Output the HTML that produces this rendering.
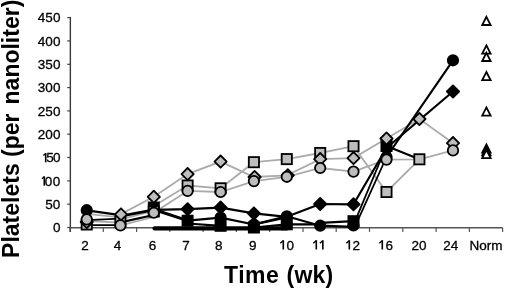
<!DOCTYPE html>
<html><head><meta charset="utf-8"><style>
html,body{margin:0;padding:0;background:#fff;width:520px;height:289px;overflow:hidden}
svg{display:block;will-change:transform}
.tl{font-family:"Liberation Sans",sans-serif;font-size:13.5px;fill:#000;stroke:#000;stroke-width:0.3px}
.tt{font-family:"Liberation Sans",sans-serif;font-size:23px;font-weight:bold;fill:#000}
</style></head><body>
<svg width="520" height="289" viewBox="0 0 520 289">
<line x1="70.35" y1="16.9" x2="70.35" y2="232" stroke="#383838" stroke-width="1.4"/>
<line x1="69.4" y1="227.8" x2="502.6" y2="227.8" stroke="#555" stroke-width="1.5"/>
<line x1="67.2" y1="227.5" x2="70" y2="227.5" stroke="#444" stroke-width="1.2"/>
<text x="60.4" y="232.3" text-anchor="end" class="tl">0</text>
<line x1="67.2" y1="204.2" x2="70" y2="204.2" stroke="#444" stroke-width="1.2"/>
<text x="60.4" y="209.0" text-anchor="end" class="tl">50</text>
<line x1="67.2" y1="180.9" x2="70" y2="180.9" stroke="#444" stroke-width="1.2"/>
<path d="M44.30,185.66V176.36" stroke="#000" stroke-width="1.6" fill="none"/><path d="M44.20,176.81L42.00,178.76" stroke="#000" stroke-width="1.35" fill="none"/>
<text x="48.50" y="185.66" text-anchor="middle" class="tl">0</text>
<text x="56.50" y="185.66" text-anchor="middle" class="tl">0</text>
<line x1="67.2" y1="157.5" x2="70" y2="157.5" stroke="#444" stroke-width="1.2"/>
<path d="M45.70,162.34V153.04" stroke="#000" stroke-width="1.6" fill="none"/><path d="M45.60,153.49L43.40,155.44" stroke="#000" stroke-width="1.35" fill="none"/>
<text x="50.00" y="162.34" text-anchor="middle" class="tl">5</text>
<text x="56.80" y="162.34" text-anchor="middle" class="tl">0</text>
<line x1="67.2" y1="134.2" x2="70" y2="134.2" stroke="#444" stroke-width="1.2"/>
<text x="60.4" y="139.0" text-anchor="end" class="tl">200</text>
<line x1="67.2" y1="110.9" x2="70" y2="110.9" stroke="#444" stroke-width="1.2"/>
<text x="60.4" y="115.7" text-anchor="end" class="tl">250</text>
<line x1="67.2" y1="87.6" x2="70" y2="87.6" stroke="#444" stroke-width="1.2"/>
<text x="60.4" y="92.4" text-anchor="end" class="tl">300</text>
<line x1="67.2" y1="64.3" x2="70" y2="64.3" stroke="#444" stroke-width="1.2"/>
<text x="60.4" y="69.1" text-anchor="end" class="tl">350</text>
<line x1="67.2" y1="40.9" x2="70" y2="40.9" stroke="#444" stroke-width="1.2"/>
<text x="60.4" y="45.7" text-anchor="end" class="tl">400</text>
<line x1="67.2" y1="17.6" x2="70" y2="17.6" stroke="#444" stroke-width="1.2"/>
<text x="60.4" y="22.4" text-anchor="end" class="tl">450</text>
<line x1="70.0" y1="227.8" x2="70.0" y2="231.9" stroke="#555" stroke-width="1.2"/>
<line x1="103.3" y1="227.8" x2="103.3" y2="231.9" stroke="#555" stroke-width="1.2"/>
<line x1="136.6" y1="227.8" x2="136.6" y2="231.9" stroke="#555" stroke-width="1.2"/>
<line x1="169.8" y1="227.8" x2="169.8" y2="231.9" stroke="#555" stroke-width="1.2"/>
<line x1="203.1" y1="227.8" x2="203.1" y2="231.9" stroke="#555" stroke-width="1.2"/>
<line x1="236.4" y1="227.8" x2="236.4" y2="231.9" stroke="#555" stroke-width="1.2"/>
<line x1="269.7" y1="227.8" x2="269.7" y2="231.9" stroke="#555" stroke-width="1.2"/>
<line x1="303.0" y1="227.8" x2="303.0" y2="231.9" stroke="#555" stroke-width="1.2"/>
<line x1="336.2" y1="227.8" x2="336.2" y2="231.9" stroke="#555" stroke-width="1.2"/>
<line x1="369.5" y1="227.8" x2="369.5" y2="231.9" stroke="#555" stroke-width="1.2"/>
<line x1="402.8" y1="227.8" x2="402.8" y2="231.9" stroke="#555" stroke-width="1.2"/>
<line x1="436.1" y1="227.8" x2="436.1" y2="231.9" stroke="#555" stroke-width="1.2"/>
<line x1="469.4" y1="227.8" x2="469.4" y2="231.9" stroke="#555" stroke-width="1.2"/>
<line x1="502.6" y1="227.8" x2="502.6" y2="231.9" stroke="#555" stroke-width="1.2"/>
<text x="85.1" y="249.5" text-anchor="middle" class="tl">2</text>
<text x="117.4" y="249.5" text-anchor="middle" class="tl">4</text>
<text x="152.4" y="249.5" text-anchor="middle" class="tl">6</text>
<text x="185.9" y="249.5" text-anchor="middle" class="tl">7</text>
<text x="218.8" y="249.5" text-anchor="middle" class="tl">8</text>
<text x="252.8" y="249.5" text-anchor="middle" class="tl">9</text>
<path d="M283.30,249.50V240.20" stroke="#000" stroke-width="1.6" fill="none"/><path d="M283.20,240.65L280.30,243.30" stroke="#000" stroke-width="1.35" fill="none"/>
<text x="290.15" y="249.50" text-anchor="middle" class="tl">0</text>
<path d="M316.30,249.50V240.20" stroke="#000" stroke-width="1.6" fill="none"/><path d="M316.20,240.65L313.30,243.30" stroke="#000" stroke-width="1.35" fill="none"/>
<path d="M322.85,249.50V240.20" stroke="#000" stroke-width="1.6" fill="none"/><path d="M322.75,240.65L319.85,243.30" stroke="#000" stroke-width="1.35" fill="none"/>
<path d="M349.30,249.50V240.20" stroke="#000" stroke-width="1.6" fill="none"/><path d="M349.20,240.65L346.30,243.30" stroke="#000" stroke-width="1.35" fill="none"/>
<text x="356.15" y="249.50" text-anchor="middle" class="tl">2</text>
<path d="M382.30,249.50V240.20" stroke="#000" stroke-width="1.6" fill="none"/><path d="M382.20,240.65L379.30,243.30" stroke="#000" stroke-width="1.35" fill="none"/>
<text x="389.15" y="249.50" text-anchor="middle" class="tl">6</text>
<text x="418.9" y="249.5" text-anchor="middle" class="tl">20</text>
<text x="450.8" y="249.5" text-anchor="middle" class="tl">24</text>
<text x="486.1" y="249.5" text-anchor="middle" class="tl">Norm</text>
<polyline points="153.80,196.80 187.60,174.10 220.60,161.60 253.90,177.00 286.80,175.30 320.20,159.10 353.50,158.10 386.50,138.50 419.40,119.00 453.00,143.10" fill="none" stroke="#ababab" stroke-width="1.8"/>
<polyline points="187.60,185.50 220.60,188.30 253.90,162.20 286.80,159.10 320.20,153.00 353.50,146.20 386.50,192.00 419.40,159.30" fill="none" stroke="#ababab" stroke-width="1.8"/>
<polyline points="187.60,190.90 220.60,192.00 253.90,181.10 286.80,176.80 320.20,168.00 353.50,171.60 386.50,159.60 419.40,159.30 453.00,150.40" fill="none" stroke="#ababab" stroke-width="1.8"/>
<line x1="86.75" y1="213.8" x2="120.40" y2="217.3" stroke="#ababab" stroke-width="1.8"/>
<line x1="86.75" y1="221.2" x2="120.40" y2="222.5" stroke="#ababab" stroke-width="1.8"/>
<line x1="120.40" y1="214.4" x2="153.80" y2="196.8" stroke="#ababab" stroke-width="1.8"/>
<line x1="120.40" y1="219.3" x2="153.80" y2="210.9" stroke="#ababab" stroke-width="1.8"/>
<line x1="120.40" y1="225.4" x2="153.80" y2="217.0" stroke="#ababab" stroke-width="1.8"/>
<line x1="153.80" y1="206" x2="187.60" y2="185.5" stroke="#ababab" stroke-width="1.8"/>
<line x1="153.80" y1="212.7" x2="187.60" y2="190.9" stroke="#ababab" stroke-width="1.8"/>
<polyline points="153.80,209.80 187.60,209.20 220.60,207.60 253.90,213.40 286.80,216.80 320.20,204.00 353.50,204.30 386.50,148.00 453.00,91.50" fill="none" stroke="#000" stroke-width="2.2" stroke-linejoin="round"/>
<polyline points="253.90,227.50 286.80,224.30 320.20,224.30" fill="none" stroke="#000" stroke-width="2.2" stroke-linejoin="round"/>
<polyline points="320.20,222.80 353.50,221.20" fill="none" stroke="#000" stroke-width="2.2" stroke-linejoin="round"/>
<polyline points="386.50,146.00 419.40,159.30" fill="none" stroke="#000" stroke-width="2.2" stroke-linejoin="round"/>
<polyline points="386.50,157.00 453.00,60.30" fill="none" stroke="#000" stroke-width="2.2" stroke-linejoin="round"/>
<line x1="353.50" y1="224.8" x2="386.50" y2="146" stroke="#000" stroke-width="1.8"/>
<line x1="353.50" y1="229.8" x2="386.50" y2="157" stroke="#000" stroke-width="1.8"/>
<polyline points="253.90,224.50 286.80,216.30 320.20,225.70 353.50,226.90" fill="none" stroke="#000" stroke-width="2.2" stroke-linejoin="round"/>
<line x1="86.75" y1="210.4" x2="120.40" y2="215.1" stroke="#000" stroke-width="2.2"/>
<line x1="86.75" y1="220.2" x2="120.40" y2="218.7" stroke="#000" stroke-width="1.7"/>
<line x1="86.75" y1="225.1" x2="120.40" y2="225.2" stroke="#000" stroke-width="1.7"/>
<line x1="120.40" y1="216.1" x2="153.80" y2="209.9" stroke="#000" stroke-width="3.0"/>
<line x1="120.40" y1="222.4" x2="153.80" y2="215.0" stroke="#000" stroke-width="2.2"/>
<line x1="153.80" y1="209.5" x2="187.60" y2="220.7" stroke="#000" stroke-width="3.0"/>
<line x1="187.60" y1="220.7" x2="220.60" y2="217.6" stroke="#000" stroke-width="2.2"/>
<line x1="187.60" y1="223.5" x2="220.60" y2="225.8" stroke="#000" stroke-width="2.2"/>
<line x1="220.60" y1="217.6" x2="253.90" y2="224.5" stroke="#000" stroke-width="2.2"/>
<line x1="253.90" y1="224.5" x2="286.80" y2="217.5" stroke="#000" stroke-width="2.2"/>
<line x1="154.6" y1="228.4" x2="286.80" y2="228.4" stroke="#000" stroke-width="4.3" stroke-linecap="round"/>
<rect x="148.70" y="202.40" width="10.20" height="10.20" fill="#000" stroke="#000" stroke-width="1.8"/>
<rect x="182.50" y="215.60" width="10.20" height="10.20" fill="#000" stroke="#000" stroke-width="1.8"/>
<rect x="215.50" y="220.70" width="10.20" height="10.20" fill="#000" stroke="#000" stroke-width="1.8"/>
<rect x="248.80" y="222.40" width="10.20" height="10.20" fill="#000" stroke="#000" stroke-width="1.8"/>
<rect x="281.70" y="219.20" width="10.20" height="10.20" fill="#000" stroke="#000" stroke-width="1.8"/>
<rect x="348.40" y="216.10" width="10.20" height="10.20" fill="#000" stroke="#000" stroke-width="1.8"/>
<rect x="381.40" y="140.90" width="10.20" height="10.20" fill="#000" stroke="#000" stroke-width="1.8"/>
<polygon points="187.60,203.10 193.70,209.20 187.60,215.30 181.50,209.20" fill="#000" stroke="#000" stroke-width="1.8" stroke-linejoin="round"/>
<polygon points="220.60,201.50 226.70,207.60 220.60,213.70 214.50,207.60" fill="#000" stroke="#000" stroke-width="1.8" stroke-linejoin="round"/>
<polygon points="253.90,207.30 260.00,213.40 253.90,219.50 247.80,213.40" fill="#000" stroke="#000" stroke-width="1.8" stroke-linejoin="round"/>
<polygon points="320.20,197.90 326.30,204.00 320.20,210.10 314.10,204.00" fill="#000" stroke="#000" stroke-width="1.8" stroke-linejoin="round"/>
<polygon points="353.50,198.20 359.60,204.30 353.50,210.40 347.40,204.30" fill="#000" stroke="#000" stroke-width="1.8" stroke-linejoin="round"/>
<polygon points="453.00,85.40 459.10,91.50 453.00,97.60 446.90,91.50" fill="#000" stroke="#000" stroke-width="1.8" stroke-linejoin="round"/>
<circle cx="86.75" cy="210.20" r="5.2" fill="#000" stroke="#000" stroke-width="1.8"/>
<circle cx="220.60" cy="217.60" r="5.2" fill="#000" stroke="#000" stroke-width="1.8"/>
<circle cx="253.90" cy="224.50" r="5.2" fill="#000" stroke="#000" stroke-width="1.8"/>
<circle cx="286.80" cy="216.30" r="5.2" fill="#000" stroke="#000" stroke-width="1.8"/>
<circle cx="320.20" cy="225.70" r="5.2" fill="#000" stroke="#000" stroke-width="1.8"/>
<circle cx="353.50" cy="225.50" r="5.2" fill="#000" stroke="#000" stroke-width="1.8"/>
<circle cx="386.50" cy="157.00" r="5.2" fill="#000" stroke="#000" stroke-width="1.8"/>
<circle cx="453.00" cy="60.30" r="5.2" fill="#000" stroke="#000" stroke-width="1.8"/>
<rect x="81.65" y="219.40" width="10.20" height="10.20" fill="#bdbdbd" stroke="#000" stroke-width="1.8"/>
<rect x="115.30" y="216.40" width="10.20" height="10.20" fill="#bdbdbd" stroke="#000" stroke-width="1.8"/>
<rect x="148.70" y="206.40" width="10.20" height="10.20" fill="#bdbdbd" stroke="#000" stroke-width="1.8"/>
<rect x="182.50" y="180.40" width="10.20" height="10.20" fill="#bdbdbd" stroke="#000" stroke-width="1.8"/>
<rect x="215.50" y="183.20" width="10.20" height="10.20" fill="#bdbdbd" stroke="#000" stroke-width="1.8"/>
<rect x="248.80" y="157.10" width="10.20" height="10.20" fill="#bdbdbd" stroke="#000" stroke-width="1.8"/>
<rect x="281.70" y="154.00" width="10.20" height="10.20" fill="#bdbdbd" stroke="#000" stroke-width="1.8"/>
<rect x="315.10" y="147.90" width="10.20" height="10.20" fill="#bdbdbd" stroke="#000" stroke-width="1.8"/>
<rect x="348.40" y="141.10" width="10.20" height="10.20" fill="#bdbdbd" stroke="#000" stroke-width="1.8"/>
<rect x="381.40" y="186.90" width="10.20" height="10.20" fill="#bdbdbd" stroke="#000" stroke-width="1.8"/>
<rect x="414.30" y="154.20" width="10.20" height="10.20" fill="#bdbdbd" stroke="#000" stroke-width="1.8"/>
<polygon points="86.75,215.90 92.85,222.00 86.75,228.10 80.65,222.00" fill="#bdbdbd" stroke="#000" stroke-width="1.8" stroke-linejoin="round"/>
<polygon points="121.00,208.30 127.10,214.40 121.00,220.50 114.90,214.40" fill="#bdbdbd" stroke="#000" stroke-width="1.8" stroke-linejoin="round"/>
<polygon points="153.80,190.70 159.90,196.80 153.80,202.90 147.70,196.80" fill="#bdbdbd" stroke="#000" stroke-width="1.8" stroke-linejoin="round"/>
<polygon points="187.60,168.00 193.70,174.10 187.60,180.20 181.50,174.10" fill="#bdbdbd" stroke="#000" stroke-width="1.8" stroke-linejoin="round"/>
<polygon points="220.60,155.50 226.70,161.60 220.60,167.70 214.50,161.60" fill="#bdbdbd" stroke="#000" stroke-width="1.8" stroke-linejoin="round"/>
<polygon points="254.60,170.90 260.70,177.00 254.60,183.10 248.50,177.00" fill="#bdbdbd" stroke="#000" stroke-width="1.8" stroke-linejoin="round"/>
<polygon points="287.80,169.20 293.90,175.30 287.80,181.40 281.70,175.30" fill="#bdbdbd" stroke="#000" stroke-width="1.8" stroke-linejoin="round"/>
<polygon points="320.20,153.00 326.30,159.10 320.20,165.20 314.10,159.10" fill="#bdbdbd" stroke="#000" stroke-width="1.8" stroke-linejoin="round"/>
<polygon points="353.50,152.00 359.60,158.10 353.50,164.20 347.40,158.10" fill="#bdbdbd" stroke="#000" stroke-width="1.8" stroke-linejoin="round"/>
<polygon points="386.50,132.40 392.60,138.50 386.50,144.60 380.40,138.50" fill="#bdbdbd" stroke="#000" stroke-width="1.8" stroke-linejoin="round"/>
<polygon points="419.40,112.90 425.50,119.00 419.40,125.10 413.30,119.00" fill="#bdbdbd" stroke="#000" stroke-width="1.8" stroke-linejoin="round"/>
<polygon points="453.00,137.00 459.10,143.10 453.00,149.20 446.90,143.10" fill="#bdbdbd" stroke="#000" stroke-width="1.8" stroke-linejoin="round"/>
<circle cx="86.75" cy="219.40" r="5.2" fill="#bdbdbd" stroke="#000" stroke-width="1.8"/>
<circle cx="120.40" cy="225.40" r="5.2" fill="#bdbdbd" stroke="#000" stroke-width="1.8"/>
<circle cx="153.80" cy="212.70" r="5.2" fill="#bdbdbd" stroke="#000" stroke-width="1.8"/>
<circle cx="187.60" cy="190.90" r="5.2" fill="#bdbdbd" stroke="#000" stroke-width="1.8"/>
<circle cx="220.60" cy="192.00" r="5.2" fill="#bdbdbd" stroke="#000" stroke-width="1.8"/>
<circle cx="253.90" cy="181.10" r="5.2" fill="#bdbdbd" stroke="#000" stroke-width="1.8"/>
<circle cx="286.80" cy="176.80" r="5.2" fill="#bdbdbd" stroke="#000" stroke-width="1.8"/>
<circle cx="320.20" cy="168.00" r="5.2" fill="#bdbdbd" stroke="#000" stroke-width="1.8"/>
<circle cx="353.50" cy="171.60" r="5.2" fill="#bdbdbd" stroke="#000" stroke-width="1.8"/>
<circle cx="386.50" cy="159.60" r="5.2" fill="#bdbdbd" stroke="#000" stroke-width="1.8"/>
<circle cx="453.00" cy="150.40" r="5.2" fill="#bdbdbd" stroke="#000" stroke-width="1.8"/>
<polygon points="486.40,16.80 490.60,25.00 482.20,25.00" fill="#fff" stroke="#000" stroke-width="1.8" stroke-linejoin="miter"/>
<polygon points="486.40,45.40 490.60,53.60 482.20,53.60" fill="#fff" stroke="#000" stroke-width="1.8" stroke-linejoin="miter"/>
<polygon points="486.40,52.80 490.60,61.00 482.20,61.00" fill="#fff" stroke="#000" stroke-width="1.8" stroke-linejoin="miter"/>
<polygon points="486.40,72.00 490.60,80.20 482.20,80.20" fill="#fff" stroke="#000" stroke-width="1.8" stroke-linejoin="miter"/>
<polygon points="486.40,107.40 490.60,115.60 482.20,115.60" fill="#fff" stroke="#000" stroke-width="1.8" stroke-linejoin="miter"/>
<polygon points="486.40,144.50 490.60,152.70 482.20,152.70" fill="#fff" stroke="#000" stroke-width="1.8" stroke-linejoin="miter"/>
<polygon points="486.40,147.20 490.60,155.40 482.20,155.40" fill="#fff" stroke="#000" stroke-width="1.8" stroke-linejoin="miter"/>
<polygon points="486.40,149.90 490.60,158.10 482.20,158.10" fill="#fff" stroke="#000" stroke-width="1.8" stroke-linejoin="miter"/>
<text x="224" y="282.6" class="tt" letter-spacing="0.5">Time</text>
<text x="286.6" y="282.6" class="tt" letter-spacing="0.2">(wk)</text>
<text transform="translate(18.7,257.9) rotate(-90)" class="tt">Platelets (per<tspan dx="2.6"> nanoliter)</tspan></text>
</svg>
</body></html>
